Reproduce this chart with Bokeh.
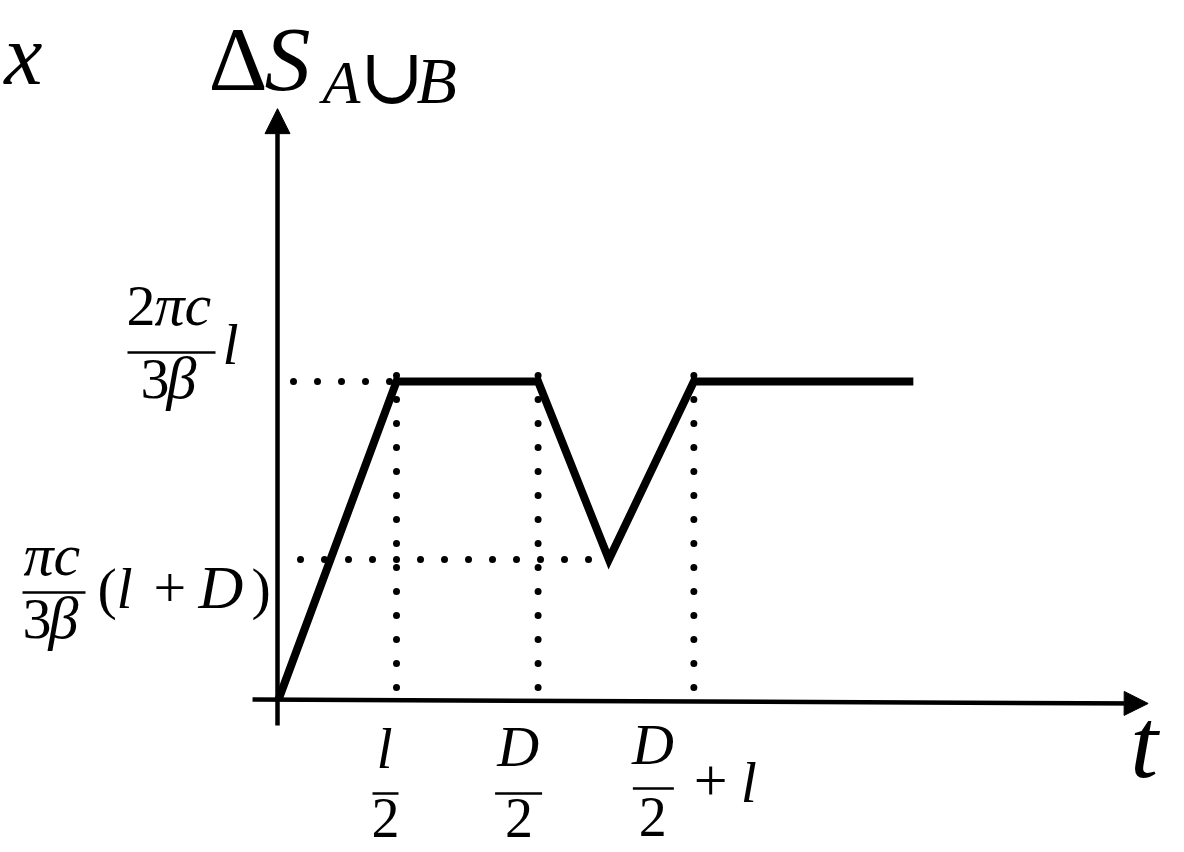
from bokeh.plotting import figure
from bokeh.models import Range1d, Label, Arrow, NormalHead
from bokeh.embed import file_html
from bokeh.resources import INLINE

# ---- data -------------------------------------------------------------
# time positions of the marked instants: l/2, D/2, D/2 + l
t_ticks = [1.0, 2.2, 3.52]
# entropy levels marked on the vertical axis: 2πc l/(3β), πc (l+D)/(3β)
s_levels = [1.0, 0.44]
# piecewise-linear evolution of ΔS_{A∪B}(t)
t_curve = [0.0, 1.0, 2.2, 2.8, 3.52, 5.38]
s_curve = [0.0, 1.0, 1.0, 0.44, 1.0, 1.0]
# tick label pieces: numerator, denominator
t_tick_num = ["l", "D", "D"]
t_tick_den = ["2", "2", "2"]
# extent of the drawn axes
t_axis = [-0.22, 7.37]
s_axis = [-0.082, 1.858]

# ---- layout -----------------------------------------------------------
W, H = 1184, 852
T_PX, S_PX = 118.0, 318.0      # pixels per unit along t and S
OX, OY = 278.0, 699.0          # screen position of the origin
SERIF = "Liberation Serif"
BASE_SHIFT = 0.37              # label anchor sits this many em above the glyph baseline

p = figure(width=W, height=H, output_backend="svg", toolbar_location=None,
           x_range=Range1d(-OX / T_PX, (W - OX) / T_PX),
           y_range=Range1d((OY - H) / S_PX, OY / S_PX),
           x_axis_type=None, y_axis_type=None, min_border=0)
p.outline_line_color = None
p.grid.visible = False
p.background_fill_color = "white"
p.border_fill_color = "white"


def put(text, x, y, dx=0, dy=0, size=56, style="normal", align="left", font=SERIF):
    """Text whose baseline sits dy px below / dx px right of data point (x, y)."""
    dy_eff = dy - BASE_SHIFT * size
    p.add_layout(Label(x=x, y=y, x_offset=dx, y_offset=-dy_eff, text=text,
                       text_font=font, text_font_size=f"{size}px",
                       text_font_style=style, text_align=align,
                       text_baseline="alphabetic", text_color="black"))


def bar(x, y, dx0, dx1, dy, w=2.5):
    """Horizontal fraction bar near data point (x, y), pixel offsets."""
    p.segment(x0=[x + dx0 / T_PX], y0=[y - dy / S_PX],
              x1=[x + dx1 / T_PX], y1=[y - dy / S_PX],
              line_color="black", line_width=w)


# ---- dotted guides ----------------------------------------------------
dots = dict(line_color="black", line_width=7, line_dash="0 24", line_cap="round")
top_s = s_levels[0] + 6 / S_PX
p.segment(x0=t_ticks, y0=[top_s] * len(t_ticks), x1=t_ticks, y1=[0] * len(t_ticks), **dots)
dip = s_curve.index(min(s_curve[1:]))
p.segment(x0=[15 / T_PX, 22 / T_PX], y0=s_levels,
          x1=[t_curve[1], t_curve[dip]], y1=s_levels, **dots)

# ---- axes -------------------------------------------------------------
p.add_layout(Arrow(x_start=t_axis[0], y_start=0, x_end=t_axis[1], y_end=-4 / S_PX,
                   line_width=4.5, line_color="black",
                   end=NormalHead(size=24, fill_color="black", line_color="black")))
p.add_layout(Arrow(x_start=-1 / T_PX, y_start=s_axis[0], x_end=-1 / T_PX, y_end=s_axis[1],
                   line_width=4.5, line_color="black",
                   end=NormalHead(size=25, fill_color="black", line_color="black")))

# ---- curve ------------------------------------------------------------
p.line(t_curve, s_curve, line_color="black", line_width=8, line_join="miter")

# ---- axis titles ------------------------------------------------------
put("x", 0, s_axis[1], dx=-236, dy=-22, size=86, style="italic", align="right")
put("Δ", 0, s_axis[1], dx=-70, dy=-16, size=92)
put("S", 0, s_axis[1], dx=-14, dy=-16, size=92, style="italic")
put("A", 0, s_axis[1], dx=44, dy=-4, size=62, style="italic")
put("∪", 0, s_axis[1], dx=81, dy=-4, size=78, font="DejaVu Serif")
put("B", 0, s_axis[1], dx=138, dy=-4, size=66, style="italic")
put("t", t_axis[1], 0, dx=-18, dy=81, size=100, style="italic")

# ---- vertical-axis labels --------------------------------------------
s_hi, s_lo = s_levels
put("2", 0, s_hi, dx=-152, dy=-54, size=58)
put("πc", 0, s_hi, dx=-124, dy=-54, size=60, style="italic")
bar(0, s_hi, -151, -63, -29)
put("3", 0, s_hi, dx=-138, dy=19, size=58)
put("β", 0, s_hi, dx=-112, dy=19, size=60, style="italic")
put("l", 0, s_hi, dx=-56, dy=-16, size=58, style="italic")

put("πc", 0, s_lo, dx=-255, dy=18, size=60, style="italic")
bar(0, s_lo, -256, -193, 33)
put("3", 0, s_lo, dx=-256, dy=81, size=58)
put("β", 0, s_lo, dx=-230, dy=81, size=60, style="italic")
put("(", 0, s_lo, dx=-181, dy=50, size=58)
put("l", 0, s_lo, dx=-162, dy=50, size=58, style="italic")
put("+", 0, s_lo, dx=-125, dy=50, size=58)
put("D", 0, s_lo, dx=-80, dy=50, size=62, style="italic")
put(")", 0, s_lo, dx=-27, dy=50, size=58)

# ---- time-axis labels -------------------------------------------------
num_dx = [-12, -20, -41]
num_dy = [70, 68, 66]
bar_dx = [(-24, 2), (-43, 4), (-61, -20)]
bar_dy = [94, 94, 89]
den_dx = [-11, -19, -41]
den_dy = [139, 139, 138]
for i, t in enumerate(t_ticks):
    put(t_tick_num[i], t, 0, dx=num_dx[i], dy=num_dy[i], size=58, style="italic", align="center")
    bar(t, 0, bar_dx[i][0], bar_dx[i][1], bar_dy[i])
    put(t_tick_den[i], t, 0, dx=den_dx[i], dy=den_dy[i], size=56, align="center")
put("+", t_ticks[2], 0, dx=0, dy=103, size=60)
put("l", t_ticks[2], 0, dx=47, dy=104, size=58, style="italic")

open("out.html", "w").write(file_html(p, INLINE))
